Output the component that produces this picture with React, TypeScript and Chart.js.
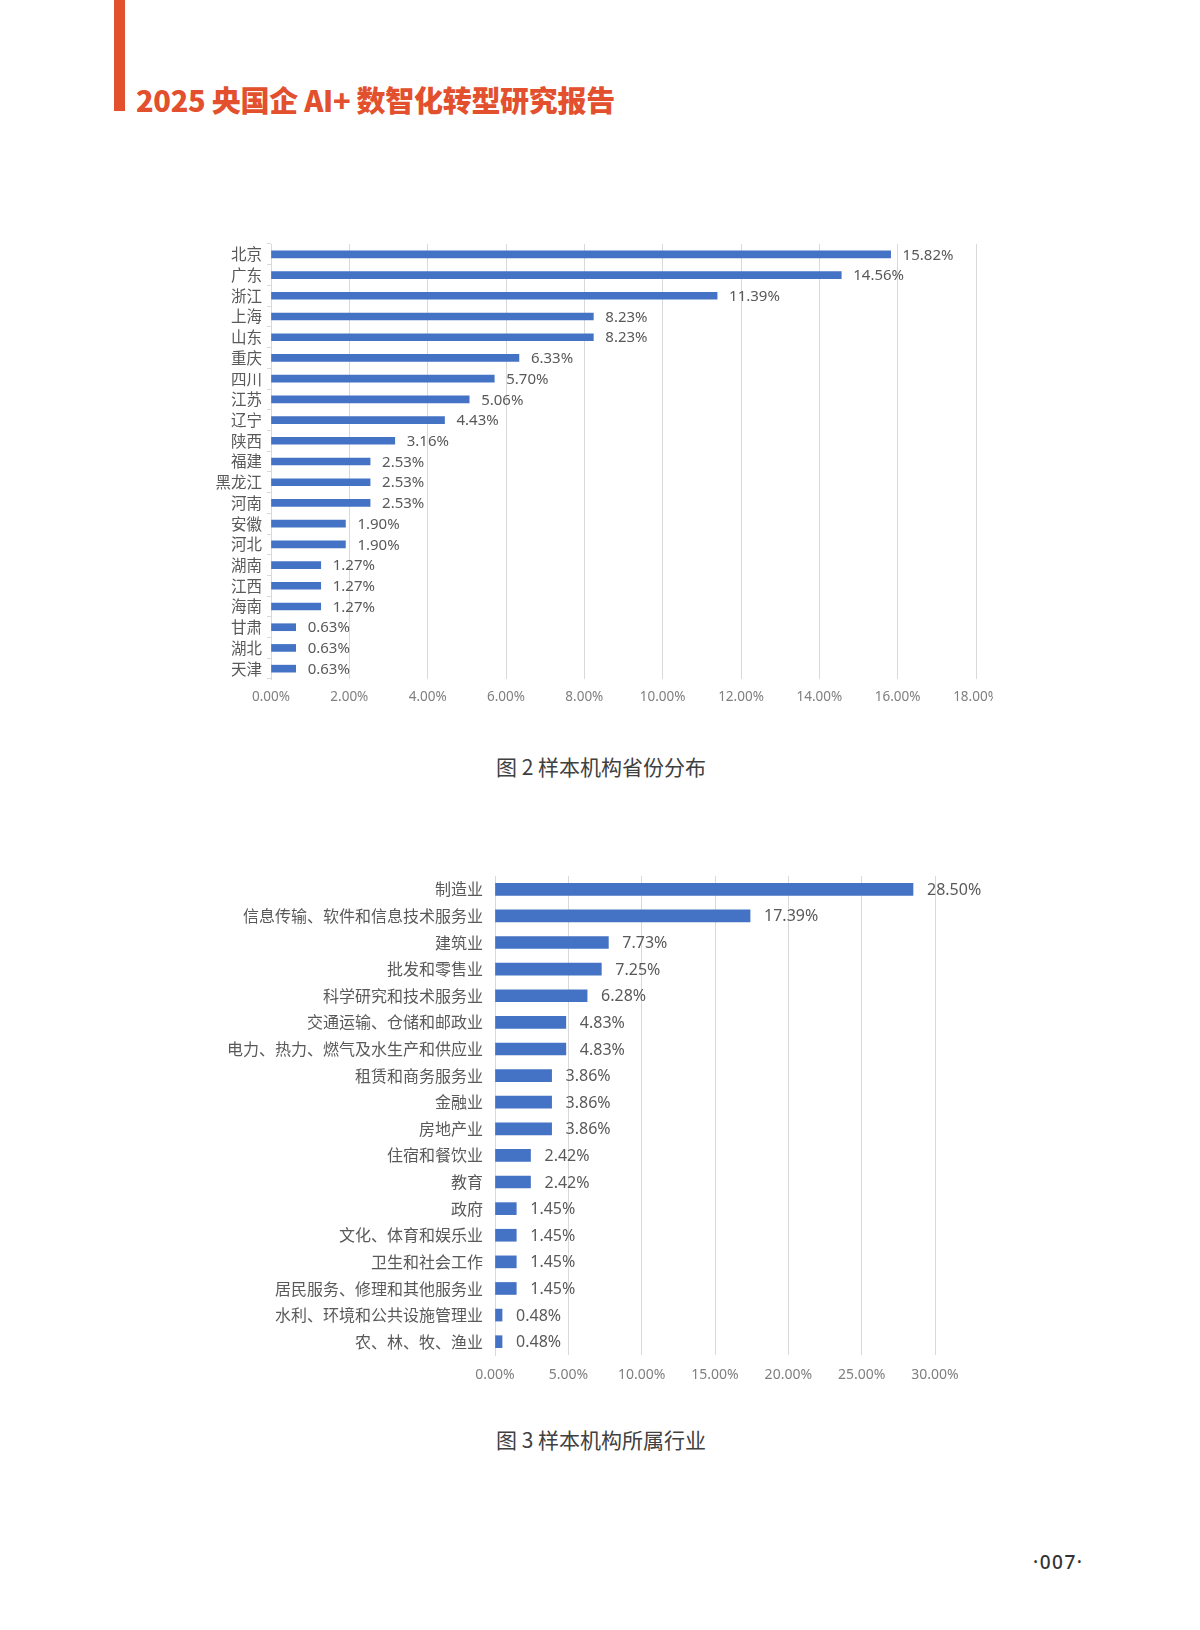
import React, { useEffect, useRef } from "react";
import { Chart, registerables } from "chart.js";

Chart.register(...registerables);

const provinces = ["北京", "广东", "浙江", "上海", "山东", "重庆", "四川", "江苏", "辽宁", "陕西", "福建", "黑龙江", "河南", "安徽", "河北", "湖南", "江西", "海南", "甘肃", "湖北", "天津"];
const provinceShares = [15.82, 14.56, 11.39, 8.23, 8.23, 6.33, 5.7, 5.06, 4.43, 3.16, 2.53, 2.53, 2.53, 1.9, 1.9, 1.27, 1.27, 1.27, 0.63, 0.63, 0.63];
const provinceAxisMax = 18;
const provinceAxisStep = 2;

const industries = ["制造业", "信息传输、软件和信息技术服务业", "建筑业", "批发和零售业", "科学研究和技术服务业", "交通运输、仓储和邮政业", "电力、热力、燃气及水生产和供应业", "租赁和商务服务业", "金融业", "房地产业", "住宿和餐饮业", "教育", "政府", "文化、体育和娱乐业", "卫生和社会工作", "居民服务、修理和其他服务业", "水利、环境和公共设施管理业", "农、林、牧、渔业"];
const industryShares = [28.5, 17.39, 7.73, 7.25, 6.28, 4.83, 4.83, 3.86, 3.86, 3.86, 2.42, 2.42, 1.45, 1.45, 1.45, 1.45, 0.48, 0.48];
const industryAxisMax = 30;
const industryAxisStep = 5;

const reportTitle = "2025 央国企 AI+ 数智化转型研究报告";
const caption2 = "图 2 样本机构省份分布";
const caption3 = "图 3 样本机构所属行业";
const pageNumber = "·007·";

const BAR = "#4472C4";
const GRID = "#d9d9d9";
const RED = "#E2502E";

const valueLabels = {
  id: "valueLabels",
  afterDatasetsDraw(chart: any, _args: any, opts: any) {
    const ctx = chart.ctx;
    const meta = chart.getDatasetMeta(0);
    const data = chart.data.datasets[0].data;
    ctx.save();
    ctx.font = opts.font;
    ctx.fillStyle = opts.color;
    ctx.textAlign = "left";
    ctx.textBaseline = "middle";
    meta.data.forEach((el: any, i: number) => {
      ctx.fillText(Number(data[i]).toFixed(2) + "%", el.x + opts.offset, el.y + 1);
    });
    ctx.restore();
  },
};

type Cfg = {
  labels: string[];
  values: number[];
  max: number;
  step: number;
  yWidth: number;
  pad: { left: number; top: number; right: number; bottom: number };
  barThickness: number;
  catFont: number;
  tickFont: number;
  tickPad: number;
  valueFont: number;
  valueOffset: number;
  yTicks: boolean;
  yPad: number;
};

function BarChart({ cfg, width, height }: { cfg: Cfg; width: number; height: number }) {
  const ref = useRef<HTMLCanvasElement>(null);
  useEffect(() => {
    if (!ref.current) return;
    const chart = new Chart(ref.current, {
      type: "bar",
      data: {
        labels: cfg.labels,
        datasets: [
          {
            data: cfg.values,
            backgroundColor: BAR,
            borderWidth: 0,
            barThickness: cfg.barThickness,
          },
        ],
      },
      options: {
        indexAxis: "y",
        animation: false,
        responsive: false,
        devicePixelRatio: 1,
        layout: { padding: cfg.pad },
        plugins: {
          legend: { display: false },
          tooltip: { enabled: false },
          valueLabels: {
            font: `${cfg.valueFont}px 'Noto Sans'`,
            color: "#595959",
            offset: cfg.valueOffset,
          },
        } as any,
        scales: {
          x: {
            type: "linear",
            min: 0,
            max: cfg.max,
            grid: { color: GRID, lineWidth: 1, drawTicks: false },
            border: { display: false },
            ticks: {
              stepSize: cfg.step,
              padding: cfg.tickPad,
              color: "#7f7f7f",
              font: { family: "'Noto Sans'", size: cfg.tickFont },
              maxRotation: 0,
              callback: (v: any) => Number(v).toFixed(2) + "%",
            },
            afterFit: (s: any) => {
              s.height = 40;
              s.paddingLeft = 0;
              s.paddingRight = 0;
            },
          },
          y: {
            type: "category",
            grid: {
              offset: true,
              drawOnChartArea: false,
              drawTicks: cfg.yTicks,
              tickLength: 4,
              color: GRID,
            },
            border: { display: true, color: GRID, width: 1 },
            ticks: {
              padding: cfg.yPad,
              color: "#595959",
              font: { family: "'Noto Sans CJK SC'", size: cfg.catFont },
              autoSkip: false,
            },
            afterFit: (s: any) => {
              s.width = cfg.yWidth;
              s.paddingTop = 0;
              s.paddingBottom = 0;
            },
          },
        },
      },
      plugins: [valueLabels as any],
    } as any);
    return () => chart.destroy();
  }, []);
  return <canvas ref={ref} width={width} height={height} style={{ width, height, display: "block" }} />;
}

const chart1: Cfg = {
  labels: provinces,
  values: provinceShares,
  max: provinceAxisMax,
  step: provinceAxisStep,
  yWidth: 81,
  pad: { left: 0, top: 14, right: 17, bottom: 0 },
  barThickness: 7,
  catFont: 15.5,
  tickFont: 13.5,
  tickPad: 10,
  valueFont: 15,
  valueOffset: 12,
  yTicks: true,
  yPad: 5,
};

const chart2: Cfg = {
  labels: industries,
  values: industryShares,
  max: industryAxisMax,
  step: industryAxisStep,
  yWidth: 295,
  pad: { left: 0, top: 16, right: 65, bottom: 0 },
  barThickness: 12,
  catFont: 16,
  tickFont: 14,
  tickPad: 12,
  valueFont: 16,
  valueOffset: 14,
  yTicks: false,
  yPad: 12,
};

export default function App() {
  const abs = (left: number, top: number): React.CSSProperties => ({ position: "absolute", left, top });
  return (
    <div style={{ position: "absolute", left: 0, top: 0, width: 1200, height: 1630, background: "#fff", overflow: "hidden" }}>
      <div style={{ position: "absolute", left: 114, top: 0, width: 11, height: 111, background: RED }} />
      <div
        style={{
          ...abs(136, 85),
          fontFamily: "'Noto Sans CJK SC'",
          fontWeight: 900,
          fontSize: 29,
          lineHeight: "29px",
          letterSpacing: "-0.3px",
          color: RED,
          whiteSpace: "pre",
        }}
      >
        {reportTitle}
      </div>
      <div style={abs(190, 230)}>
        <BarChart cfg={chart1} width={803} height={489} />
      </div>
      <div
        style={{
          ...abs(496, 756),
          fontFamily: "'Noto Sans CJK SC'",
          fontSize: 21,
          lineHeight: "21px",
          color: "#404040",
          whiteSpace: "pre",
        }}
      >
        {caption2}
      </div>
      <div style={abs(200, 860)}>
        <BarChart cfg={chart2} width={800} height={535} />
      </div>
      <div
        style={{
          ...abs(496, 1429),
          fontFamily: "'Noto Sans CJK SC'",
          fontSize: 21,
          lineHeight: "21px",
          color: "#404040",
          whiteSpace: "pre",
        }}
      >
        {caption3}
      </div>
      <div
        style={{
          ...abs(1033, 1553),
          fontFamily: "'Noto Sans'",
          fontWeight: 500,
          fontSize: 19,
          lineHeight: "19px",
          letterSpacing: "1.5px",
          color: "#333",
          whiteSpace: "pre",
        }}
      >
        {pageNumber}
      </div>
    </div>
  );
}
